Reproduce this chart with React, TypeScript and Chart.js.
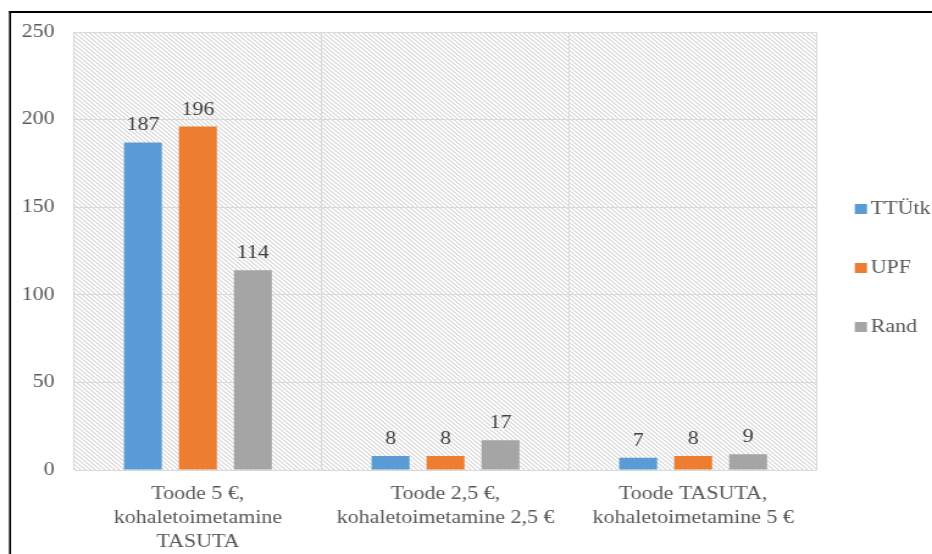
import React, { useEffect, useRef } from "react";
import { Chart, registerables } from "chart.js";

Chart.register(...registerables);

// Category labels (multi-line)
const categories: string[][] = [
  ["Toode 5 €,", "kohaletoimetamine", "TASUTA"],
  ["Toode 2,5 €,", "kohaletoimetamine 2,5 €"],
  ["Toode TASUTA,", "kohaletoimetamine 5 €"],
];

const seriesNames = ["TTÜtk", "UPF", "Rand"];
const ttutk = [187, 8, 7];
const upf = [196, 8, 8];
const rand = [114, 17, 9];
const seriesColors = ["#5b9bd5", "#ed7d31", "#a5a5a5"];

const yMin = 0;
const yMax = 250;
const yStep = 50;

// The chart is laid out on a narrower canvas and widened with CSS,
// which gives the slightly wide serif lettering of the original export.
const VIEW_W = 932;
const VIEW_H = 554;
const CANVAS_W = 764;
const CANVAS_H = 554;

const FONT_FAMILY = '"Liberation Serif", "Times New Roman", serif';
const TEXT_COLOR = "#595959";
const LABEL_COLOR = "#404040";
const GRID_COLOR = "#d9d9d9";

function makeHatch(ctx: CanvasRenderingContext2D): CanvasPattern | string {
  const tile = document.createElement("canvas");
  tile.width = 4;
  tile.height = 4;
  const t = tile.getContext("2d");
  if (!t) return "#ffffff";
  t.fillStyle = "#ffffff";
  t.fillRect(0, 0, 4, 4);
  t.fillStyle = "#d6d6d6";
  for (let i = 0; i < 4; i++) t.fillRect(i, i, 1, 1);
  t.fillStyle = "#ececec";
  for (let i = 0; i < 4; i++) t.fillRect((i + 1) % 4, i, 1, 1);
  return ctx.createPattern(tile, "repeat") || "#ffffff";
}

const hatchPlugin = {
  id: "hatchBackground",
  beforeDraw(chart: any) {
    const { ctx, chartArea } = chart;
    if (!chartArea) return;
    ctx.save();
    ctx.fillStyle = "#ffffff";
    ctx.fillRect(0, 0, chart.width, chart.height);
    ctx.fillStyle = makeHatch(ctx);
    ctx.fillRect(
      chartArea.left,
      chartArea.top,
      chartArea.right - chartArea.left,
      chartArea.bottom - chartArea.top
    );
    ctx.restore();
  },
};

const valueLabelPlugin = {
  id: "valueLabels",
  afterDatasetsDraw(chart: any) {
    const { ctx } = chart;
    ctx.save();
    ctx.font = `18px ${FONT_FAMILY}`;
    ctx.fillStyle = LABEL_COLOR;
    ctx.textAlign = "center";
    ctx.textBaseline = "alphabetic";
    chart.data.datasets.forEach((ds: any, di: number) => {
      const meta = chart.getDatasetMeta(di);
      meta.data.forEach((bar: any, i: number) => {
        ctx.fillText(String(ds.data[i]), bar.x, bar.y - 12);
      });
    });
    ctx.restore();
  },
};

const sideLegendPlugin = {
  id: "sideLegend",
  afterDraw(chart: any) {
    const { ctx, chartArea } = chart;
    const x0 = chartArea.right + 31;
    const mid = 268;
    const step = 59;
    const n = chart.data.datasets.length;
    ctx.save();
    ctx.font = `18px ${FONT_FAMILY}`;
    ctx.textAlign = "left";
    ctx.textBaseline = "middle";
    chart.data.datasets.forEach((ds: any, i: number) => {
      const cy = mid + (i - (n - 1) / 2) * step;
      ctx.fillStyle = ds.backgroundColor;
      ctx.fillRect(x0, cy - 5, 10, 10);
      ctx.fillStyle = TEXT_COLOR;
      ctx.fillText(ds.label, x0 + 13, cy);
    });
    ctx.restore();
  },
};

const framePlugin = {
  id: "outerFrame",
  afterDraw(chart: any) {
    const { ctx } = chart;
    ctx.save();
    ctx.strokeStyle = "#000000";
    ctx.lineWidth = 2;
    ctx.beginPath();
    ctx.moveTo(7.4, 12);
    ctx.lineTo(chart.width, 12);
    ctx.stroke();
    ctx.lineWidth = 1.64;
    ctx.beginPath();
    ctx.moveTo(8.2, 11);
    ctx.lineTo(8.2, chart.height);
    ctx.stroke();
    ctx.restore();
  },
};

export default function App() {
  const canvasRef = useRef<HTMLCanvasElement | null>(null);

  useEffect(() => {
    const canvas = canvasRef.current;
    if (!canvas) return;
    const font = { family: FONT_FAMILY, size: 18 };
    const chart = new Chart(canvas, {
      type: "bar",
      data: {
        labels: categories,
        datasets: [
          { label: seriesNames[0], data: ttutk, backgroundColor: seriesColors[0] },
          { label: seriesNames[1], data: upf, backgroundColor: seriesColors[1] },
          { label: seriesNames[2], data: rand, backgroundColor: seriesColors[2] },
        ],
      },
      options: {
        responsive: false,
        animation: false,
        devicePixelRatio: 1,
        layout: { padding: { left: 8, top: 32, right: 94.3, bottom: 0 } },
        datasets: {
          bar: { categoryPercentage: 0.666, barPercentage: 0.69 },
        },
        plugins: {
          legend: { display: false },
          tooltip: { enabled: false },
        },
        scales: {
          x: {
            grid: { color: GRID_COLOR, offset: true, drawTicks: false },
            border: { display: false },
            ticks: { font: { ...font, lineHeight: 1.35 }, color: TEXT_COLOR, padding: 12, maxRotation: 0 },
            afterFit: (scale: any) => {
              scale.height = 84;
            },
          },
          y: {
            min: yMin,
            max: yMax,
            grid: { color: GRID_COLOR, drawTicks: false },
            border: { display: false },
            ticks: { stepSize: yStep, font, color: TEXT_COLOR, padding: 16 },
            afterFit: (scale: any) => {
              scale.width = 52.7;
            },
          },
        },
      } as any,
      plugins: [hatchPlugin, valueLabelPlugin, sideLegendPlugin, framePlugin],
    });
    return () => chart.destroy();
  }, []);

  return (
    <div style={{ position: "fixed", left: 0, top: 0, width: VIEW_W, height: VIEW_H, background: "#ffffff" }}>
      <canvas
        ref={canvasRef}
        width={CANVAS_W}
        height={CANVAS_H}
        style={{ width: VIEW_W, height: VIEW_H, display: "block" }}
      />
    </div>
  );
}
